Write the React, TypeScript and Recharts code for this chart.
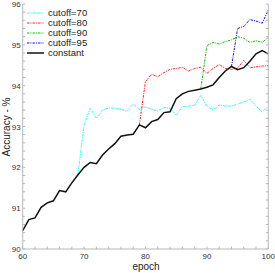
import React from 'react';
import { LineChart, Line, XAxis, YAxis, CartesianGrid, Legend } from 'recharts';

const epochs = [60,61,62,63,64,65,66,67,68,69,70,71,72,73,74,75,76,77,78,79,80,81,82,83,84,85,86,87,88,89,90,91,92,93,94,95,96,97,98,99,100];

const constantVals = [90.45,90.72,90.76,91.02,91.13,91.18,91.43,91.40,91.62,91.82,92.0,92.12,92.09,92.3,92.45,92.58,92.76,92.79,92.81,93.04,92.97,93.12,93.17,93.34,93.36,93.68,93.8,93.86,93.89,93.92,93.96,94.02,94.2,94.36,94.47,94.39,94.44,94.6,94.78,94.86,94.78];

// cutoff series: start epoch + values
const cutoff70Start = 69;
const cutoff70 = [91.82,93.05,93.45,93.2,93.4,93.45,93.45,93.42,93.37,93.55,93.42,93.48,93.42,93.38,93.47,93.45,93.27,93.49,93.5,93.52,93.76,93.5,93.4,93.53,93.5,93.5,93.55,93.6,93.67,93.5,93.35,93.5];
const cutoff80Start = 79;
const cutoff80 = [93.04,94.1,94.28,94.22,94.32,94.4,94.42,94.45,94.36,94.42,94.45,94.3,94.42,94.52,94.42,94.4,94.43,94.62,94.44,94.46,94.48,94.49];
const cutoff90Start = 89;
const cutoff90 = [93.92,94.98,95.06,95.02,95.08,95.12,95.2,95.16,95.06,95.1,95.06,95.18];
const cutoff95Start = 94;
const cutoff95 = [94.47,95.4,95.45,95.62,95.58,95.53,95.85];

const xMajorTicks = [60,70,80,90,100];
const yMajorTicks = [90,91,92,93,94,95,96];

const seriesNames = ['cutoff=70','cutoff=80','cutoff=90','cutoff=95','constant'];
const seriesKeys = ['c70','c80','c90','c95','constant'];
const seriesColors = ['#22ffff','#ff2222','#11bb11','#1111ff','#111111'];
const DASH = '2.5 1 1 1';
const seriesDash = [DASH, DASH, DASH, DASH, undefined];

const pick = (arr: number[], start: number, e: number) => {
  const i = e - start;
  return i >= 0 && i < arr.length ? arr[i] : null;
};

const data = epochs.map((e, i) => ({
  epoch: e,
  constant: constantVals[i],
  c70: pick(cutoff70, cutoff70Start, e),
  c80: pick(cutoff80, cutoff80Start, e),
  c90: pick(cutoff90, cutoff90Start, e),
  c95: pick(cutoff95, cutoff95Start, e),
}));

const xAllTicks: number[] = [];
for (let v = 60; v <= 100; v += 2) xAllTicks.push(v);
const yAllTicks: number[] = [];
for (let k = 0; k <= 30; k++) yAllTicks.push(Math.round((90 + k * 0.2) * 10) / 10);

const FONT = 'Liberation Sans, Arial, sans-serif';
const FRAME = '#b8b8b8';
const TICKLEN = 2.5;

const isMajorX = (v: number) => xMajorTicks.includes(v);
const isMajorY = (v: number) => yMajorTicks.includes(v);

const BottomTick = (p: any) => {
  const { x, y, payload } = p;
  const v = payload.value;
  return (
    <g>
      <line x1={x} x2={x} y1={y} y2={y - TICKLEN} stroke={FRAME} />
      {isMajorX(v) && (
        <text x={x} y={y + 10} textAnchor="middle" fontSize={8} fill="#333" fontFamily={FONT}>{v}</text>
      )}
    </g>
  );
};
const TopTick = (p: any) => {
  const { x, y } = p;
  return <line x1={x} x2={x} y1={y} y2={y + TICKLEN} stroke={FRAME} />;
};
const LeftTick = (p: any) => {
  const { x, y, payload } = p;
  const v = payload.value;
  return (
    <g>
      <line x1={x} x2={x + TICKLEN} y1={y} y2={y} stroke={FRAME} />
      {isMajorY(v) && (
        <text x={x - 2} y={y + 3} textAnchor="end" fontSize={8} fill="#333" fontFamily={FONT}>{v}</text>
      )}
    </g>
  );
};
const RightTick = (p: any) => {
  const { x, y } = p;
  return <line x1={x} x2={x - TICKLEN} y1={y} y2={y} stroke={FRAME} />;
};

const LegendContent = () => (
  <div style={{ fontFamily: FONT, fontSize: 9.5, color: '#222', lineHeight: '10px' }}>
    {seriesNames.map((n, i) => (
      <div key={n} style={{ display: 'flex', alignItems: 'center', height: 10 }}>
        <svg width={20} height={10} style={{ marginRight: 2 }}>
          <line x1={1} x2={18} y1={5} y2={5} stroke={seriesColors[i]} strokeWidth={i === 4 ? 1.5 : 1.2} strokeDasharray={seriesDash[i]} />
        </svg>
        <span>{n}</span>
      </div>
    ))}
  </div>
);

export default function App() {
  return (
    <div style={{ position: 'absolute', left: 0, top: 0, background: '#fff' }}>
      <LineChart width={275} height={273} data={data} margin={{ top: 4, right: 0, bottom: 0, left: 0 }}>
        <CartesianGrid stroke="#e4e4e4" strokeWidth={1} horizontalValues={[91,92,93,94,95]} verticalValues={[70,80,90]} />
        <XAxis xAxisId="b" dataKey="epoch" type="number" domain={[60, 100]} ticks={xAllTicks} interval={0}
          height={24} tickSize={0} tickMargin={0} tickLine={false} axisLine={{ stroke: FRAME }} tick={<BottomTick />}
          label={{ content: () => <text x={146} y={270} textAnchor="middle" fontSize={10} fill="#222" fontFamily={FONT}>epoch</text> }} />
        <XAxis xAxisId="t" orientation="top" dataKey="epoch" type="number" domain={[60, 100]} ticks={xAllTicks} interval={0}
          height={0} tickSize={0} tickMargin={0} tickLine={false} axisLine={{ stroke: FRAME }} tick={<TopTick />} />
        <YAxis yAxisId="l" type="number" domain={[90, 96]} ticks={yAllTicks} interval={0} width={22.7}
          tickSize={0} tickMargin={0} tickLine={false} axisLine={{ stroke: FRAME }} tick={<LeftTick />}
          label={{ content: () => <text x={0} y={0} transform="translate(7.5 127) rotate(-90)" textAnchor="middle" dominantBaseline="middle" fontSize={10} fill="#222" fontFamily={FONT}>Accuracy - %</text> }} />
        <YAxis yAxisId="r" orientation="right" type="number" domain={[90, 96]} ticks={yAllTicks} interval={0} width={6.7}
          tickSize={0} tickMargin={0} tickLine={false} axisLine={{ stroke: FRAME }} tick={<RightTick />} />
        <Legend layout="vertical" align="center" verticalAlign="middle" content={<LegendContent />}
          wrapperStyle={{ left: 26, top: 8, width: 'auto', height: 'auto' }} />
        {seriesKeys.map((k, i) => (
          <Line key={k} xAxisId="b" yAxisId="l" type="linear" dataKey={k} name={seriesNames[i]}
            stroke={seriesColors[i]} strokeWidth={i === 4 ? 1.5 : 1} strokeDasharray={seriesDash[i]}
            dot={false} activeDot={false} connectNulls={false} isAnimationActive={false} />
        ))}
        <Line xAxisId="t" yAxisId="r" dataKey="constant" stroke="none" dot={false} activeDot={false} legendType="none" isAnimationActive={false} />
      </LineChart>
    </div>
  );
}
